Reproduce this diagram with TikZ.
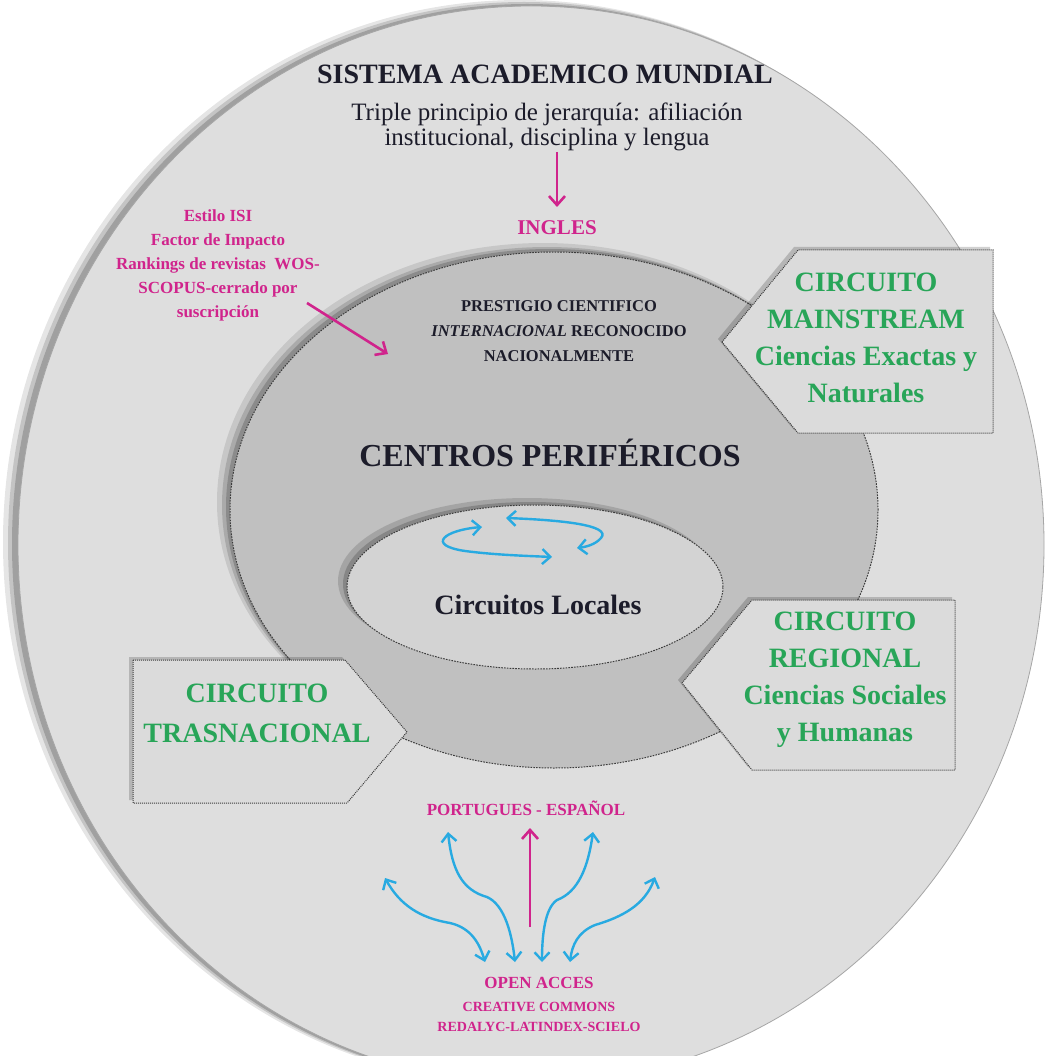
\documentclass[tikz,border=0pt]{standalone}
\usepackage{fontspec}
\setmainfont{Liberation Serif}
\usetikzlibrary{arrows.meta}
\definecolor{outerfill}{RGB}{222,222,222}
\definecolor{midfill}{RGB}{192,192,192}
\definecolor{innerfill}{RGB}{211,211,211}
\definecolor{boxfill}{RGB}{219,219,219}
\definecolor{magc}{RGB}{208,36,140}
\definecolor{greenc}{RGB}{40,165,88}
\definecolor{bluec}{RGB}{40,170,225}
\definecolor{darkc}{RGB}{28,28,42}
\definecolor{bordc}{RGB}{60,60,60}
\begin{document}
\begin{tikzpicture}[x=1pt,y=-1pt,
  every node/.style={inner sep=0pt, align=center},
  darktxt/.style={text=darkc},
  greentxt/.style={text=greenc, font=\fontsize{28pt}{37pt}\selectfont\bfseries},
  magtxt/.style={text=magc},
  bluearr/.style={draw=bluec, line width=2.4pt, line cap=round,
    {Straight Barb[length=8pt,width=15pt]}-{Straight Barb[length=8pt,width=15pt]}},
  magarr/.style={draw=magc, line width=2.6pt, -{Straight Barb[length=9pt,width=16pt]}},
  boxshape/.style={fill=boxfill, draw=bordc, densely dotted, line width=1pt},
  boxshadow/.style={fill=black, opacity=0.18},
  ellborder/.style={draw=bordc, dash pattern=on 1.6pt off 1.2pt, line width=1pt}]
\useasboundingbox (0,0) rectangle (1046,1056);
\fill[white] (0,0) rectangle (1046,1056);

% outer ellipse
\begin{scope}
\clip (0,0) rectangle (1046,1056);
\fill[black,opacity=0.10] (520,542) ellipse [x radius=517pt, y radius=542pt];
\fill[black,opacity=0.14] (524,543) ellipse [x radius=516pt, y radius=541pt];
\fill[black,opacity=0.18] (527,544) ellipse [x radius=515pt, y radius=540pt];
\fill[outerfill, draw=gray!70, line width=0.8pt] (531,545) ellipse [x radius=513pt, y radius=539pt];
\end{scope}

% middle ellipse
\fill[black,opacity=0.10] (543,502) ellipse [x radius=326pt, y radius=259pt];
\fill[black,opacity=0.14] (547,505) ellipse [x radius=325pt, y radius=258pt];
\fill[black,opacity=0.18] (550,507) ellipse [x radius=324pt, y radius=258pt];
\fill[midfill] (554,510) ellipse [x radius=324pt, y radius=258pt];
\path[ellborder] (554,510) ellipse [x radius=324pt, y radius=258pt];

% inner ellipse
\fill[black,opacity=0.14] (527,581) ellipse [x radius=189pt, y radius=83pt];
\fill[black,opacity=0.18] (531,584) ellipse [x radius=188pt, y radius=82pt];
\fill[innerfill] (535,587) ellipse [x radius=188pt, y radius=82pt];
\path[ellborder] (535,587) ellipse [x radius=188pt, y radius=82pt];

% boxes
\fill[boxshadow] (718,339) -- (794,247) -- (990,247) -- (990,430) -- (794,430) -- cycle;
\path[boxshape] (722,342) -- (798,250) -- (993,250) -- (993,433) -- (798,433) -- cycle;
\fill[boxshadow] (678,680) -- (748,597) -- (952,597) -- (952,767) -- (748,767) -- cycle;
\path[boxshape] (682,683) -- (752,600) -- (955,600) -- (955,770) -- (752,770) -- cycle;
\fill[boxshadow] (129,657) -- (342,657) -- (404,729) -- (344,800) -- (129,800) -- cycle;
\path[boxshape] (133,660) -- (345,660) -- (407,732) -- (347,803) -- (133,803) -- cycle;

% texts
\node[darktxt, font=\fontsize{28pt}{30pt}\selectfont\bfseries] (title) at (545,74) {SISTEMA ACADEMICO MUNDIAL};
\node[darktxt, font=\fontsize{25pt}{25pt}\selectfont] (sub) at (547,127) {Triple principio de jerarquía: afiliación\\institucional, disciplina y lengua};
\node[magtxt, font=\fontsize{21pt}{22pt}\selectfont\bfseries] (ingles) at (557,228) {INGLES};
\node[magtxt, font=\fontsize{17pt}{24pt}\selectfont\bfseries] (isi) at (218,265) {Estilo ISI\\Factor de Impacto\\Rankings de revistas \ WOS-\\SCOPUS-cerrado por\\suscripción};
\node[darktxt, font=\fontsize{16.5pt}{25pt}\selectfont\bfseries] (prest) at (559,331) {PRESTIGIO CIENTIFICO\\\textit{INTERNACIONAL} RECONOCIDO\\NACIONALMENTE};
\node[darktxt, font=\fontsize{32pt}{34pt}\selectfont\bfseries] (centros) at (550,453) {CENTROS PERIFÉRICOS};
\node[darktxt, font=\fontsize{28pt}{30pt}\selectfont\bfseries] (locales) at (538,605) {Circuitos Locales};
\node[greentxt] (mainstream) at (866,338) {CIRCUITO\\MAINSTREAM\\Ciencias Exactas y\\Naturales};
\node[greentxt] (regional) at (845,680) {CIRCUITO\\REGIONAL\\Ciencias Sociales\\y Humanas};
\node[greentxt, font=\fontsize{28pt}{40pt}\selectfont\bfseries] (trasn) at (257,713) {CIRCUITO\\TRASNACIONAL};
\node[magtxt, font=\fontsize{17pt}{18pt}\selectfont\bfseries] (port) at (526,808) {PORTUGUES - ESPAÑOL};
\node[magtxt, font=\fontsize{17pt}{18pt}\selectfont\bfseries] (open) at (539,983) {OPEN ACCES};
\node[magtxt, font=\fontsize{14pt}{20pt}\selectfont\bfseries] (cc) at (539,1017) {CREATIVE COMMONS\\REDALYC-LATINDEX-SCIELO};

% arrow end coordinates
\coordinate (ingA) at (557,152);
\coordinate (ingB) at (557,207);
\coordinate (isiA) at (307,303);
\coordinate (isiB) at (388,354);
\coordinate (portA) at (530,927);
\coordinate (portB) at (530,828);
\coordinate (b1a) at (385,878); \coordinate (b1b) at (485,962);
\coordinate (b2a) at (448,832); \coordinate (b2b) at (515,962);
\coordinate (b3a) at (593,832); \coordinate (b3b) at (542,962);
\coordinate (b4a) at (655,877); \coordinate (b4b) at (570,962);
\coordinate (l1a) at (482,527); \coordinate (l1b) at (552,557);
\coordinate (l2a) at (506,518); \coordinate (l2b) at (577,548);

% magenta arrows
\draw[magarr] (ingA) -- (ingB);
\draw[magarr] (isiA) -- (isiB);
\draw[magarr] (portA) -- (portB);

% blue arrows bottom
\draw[bluearr] (b1a) .. controls (400,905) and (420,918) .. (450,923) .. controls (472,928) and (480,945) .. (b1b);
\draw[bluearr] (b2a) .. controls (452,870) and (462,890) .. (487,897) .. controls (505,905) and (512,935) .. (b2b);
\draw[bluearr] (b3a) .. controls (588,868) and (578,892) .. (557,900) .. controls (545,908) and (542,935) .. (b3b);
\draw[bluearr] (b4a) .. controls (645,905) and (622,917) .. (595,925) .. controls (578,932) and (572,945) .. (b4b);

% blue arrows inner
\draw[bluearr] (l1a) .. controls (445,530) and (425,545) .. (465,551) .. controls (495,555) and (530,556) .. (l1b);
\draw[bluearr] (l2a) .. controls (560,520) and (612,525) .. (601,538) .. controls (595,545) and (585,547) .. (l2b);
\end{tikzpicture}
\end{document}
